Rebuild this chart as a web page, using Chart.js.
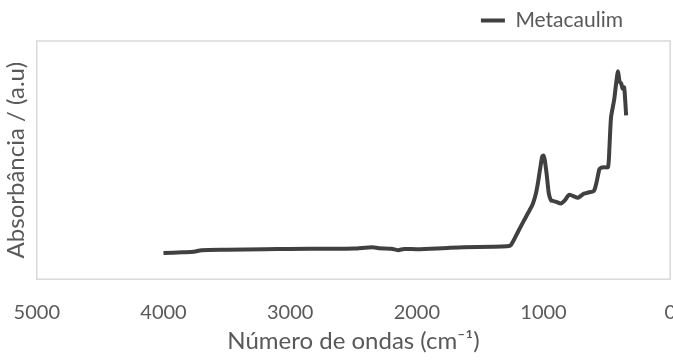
<!DOCTYPE html>
<html lang="pt">
<head>
    <meta charset="UTF-8">
    <title>Metacaulim FTIR</title>
    <script src="https://cdn.jsdelivr.net/npm/chart.js"></script>
    <style>
        body { margin: 0; padding: 0; overflow: hidden; background: #fff; }
        #wrap { width: 679px; height: 363px; }
    </style>
</head>
<body>
<div id="wrap"><canvas id="ftirChart"></canvas></div>
<script>
    // wavenumber (cm-1) and absorbance (arbitrary units)
    const wavenumbers = [4000, 3850, 3760, 3700, 3500, 3200, 3000, 2700, 2500, 2350, 2300, 2200, 2150, 2100, 2000,
        1800, 1630, 1400, 1290, 1259, 1200, 1156, 1120, 1085, 1060, 1045, 1025, 1010, 1000, 990, 975, 958, 940,
        926, 900, 863, 830, 800, 770, 728, 700, 681, 640, 602, 580, 560, 546, 520, 491, 480, 467, 443, 425, 412,
        400, 388, 375, 364, 355, 348];
    const absorbance = [0.110, 0.113, 0.115, 0.122, 0.124, 0.126, 0.127, 0.128, 0.129, 0.134, 0.130, 0.128, 0.122,
        0.127, 0.126, 0.130, 0.134, 0.136, 0.138, 0.142, 0.200, 0.245, 0.280, 0.316, 0.360, 0.401, 0.470, 0.515,
        0.519, 0.500, 0.440, 0.359, 0.330, 0.329, 0.325, 0.318, 0.332, 0.354, 0.350, 0.342, 0.352, 0.359, 0.365,
        0.371, 0.410, 0.460, 0.468, 0.470, 0.470, 0.550, 0.679, 0.751, 0.830, 0.873, 0.830, 0.823, 0.800, 0.806,
        0.750, 0.688];
    const xTicks = [5000, 4000, 3000, 2000, 1000, 0];

    const textColor = '#595959';
    const font = 'Lato, sans-serif';

    const plotBorder = {
        id: 'plotBorder',
        afterLayout(chart) {
            // legend sits left of the canvas edge, as in the original
            chart.legend.right -= 50;
        },
        beforeDatasetsDraw(chart) {
            const a = chart.chartArea;
            const ctx = chart.ctx;
            ctx.save();
            ctx.strokeStyle = '#d9d9d9';
            ctx.lineWidth = 1.5;
            ctx.strokeRect(a.left, a.top, a.right - a.left, a.bottom - a.top);
            ctx.restore();
        }
    };

    new Chart(document.getElementById('ftirChart'), {
        type: 'line',
        data: {
            datasets: [{
                label: 'Metacaulim',
                data: wavenumbers.map((w, i) => ({ x: w, y: absorbance[i] })),
                borderColor: '#404040',
                backgroundColor: '#404040',
                borderWidth: 4,
                pointRadius: 0,
                tension: 0.25
            }]
        },
        options: {
            responsive: true,
            maintainAspectRatio: false,
            animation: false,
            layout: { padding: { left: 0, right: 0, top: 4, bottom: 7 } },
            plugins: {
                legend: {
                    position: 'top',
                    align: 'end',
                    labels: {
                        boxWidth: 24,
                        boxHeight: 0,
                        padding: 6,
                        color: textColor,
                        font: { family: font, size: 21 }
                    }
                },
                tooltip: { enabled: false }
            },
            scales: {
                x: {
                    type: 'linear',
                    reverse: true,
                    min: 0,
                    max: 5000,
                    afterBuildTicks: axis => { axis.ticks = xTicks.map(v => ({ value: v })); },
                    grid: { display: false, drawTicks: true, tickLength: 18 },
                    border: { display: false },
                    ticks: {
                        color: textColor,
                        font: { family: font, size: 20 },
                        padding: 3,
                        maxRotation: 0,
                        callback: v => String(v)
                    },
                    title: {
                        display: true,
                        text: 'Número de ondas (cm⁻¹)',
                        color: textColor,
                        font: { family: font, size: 24 },
                        padding: { top: 0, bottom: 0 }
                    }
                },
                y: {
                    min: 0,
                    max: 1,
                    grid: { display: false, drawTicks: false },
                    border: { display: false },
                    ticks: { display: false },
                    title: {
                        display: true,
                        text: 'Absorbância / (a.u)',
                        color: textColor,
                        font: { family: font, size: 24 },
                        padding: { top: 2, bottom: 6 }
                    }
                }
            }
        },
        plugins: [plotBorder]
    });
</script>
</body>
</html>
